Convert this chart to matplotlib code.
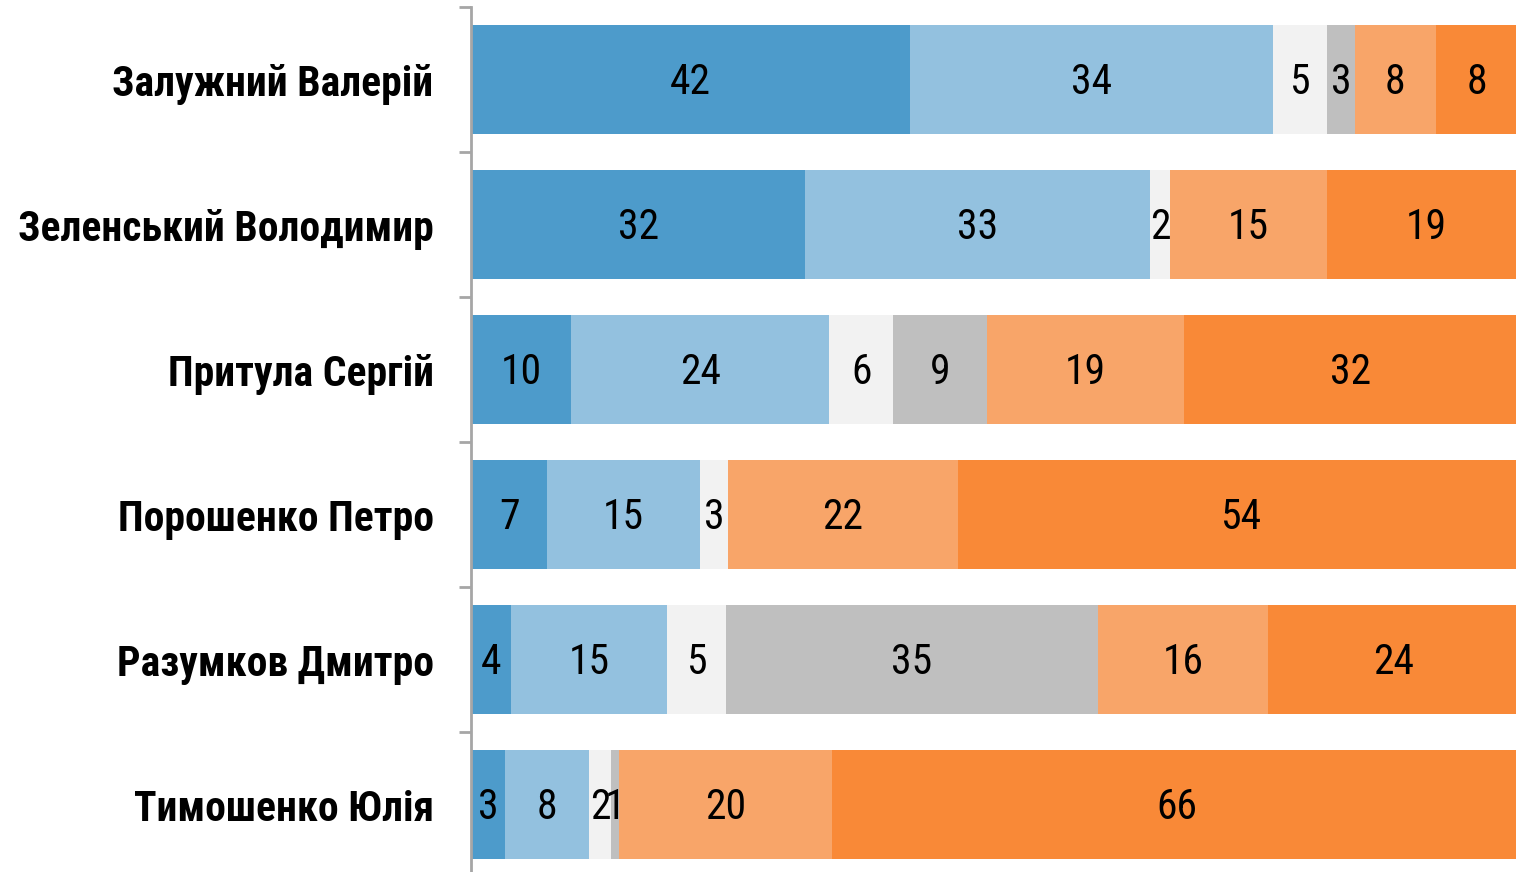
import matplotlib
matplotlib.use("Agg")
import matplotlib.pyplot as plt
import numpy as np

plt.rcParams['font.family'] = ['Roboto Condensed', 'Fira Sans Condensed', 'DejaVu Sans']
plt.rcParams['font.stretch'] = 'condensed'

names = ['Залужний Валерій', 'Зеленський Володимир', 'Притула Сергій',
         'Порошенко Петро', 'Разумков Дмитро', 'Тимошенко Юлія']

# printed values (%)
v1 = [42, 32, 10, 7, 4, 3]
v2 = [34, 33, 24, 15, 15, 8]
v3 = [5, 2, 6, 3, 5, 2]
v4 = [3, 0, 9, 0, 35, 1]
v5 = [8, 15, 19, 22, 16, 20]
v6 = [8, 19, 32, 54, 24, 66]

# segment lengths as drawn in the picture
w1 = [42.0, 32.0, 9.6, 7.3, 3.8, 3.3]
w2 = [34.7, 33.0, 24.7, 14.6, 15.0, 8.0]
w3 = [5.2, 1.9, 6.1, 2.7, 5.6, 2.1]
w4 = [2.7, 0.0, 9.0, 0.0, 35.6, 0.8]
w5 = [7.7, 15.0, 18.8, 22.0, 16.3, 20.3]
w6 = [8.0, 19.0, 32.0, 54.0, 24.0, 66.0]

values = [v1, v2, v3, v4, v5, v6]
widths = [w1, w2, w3, w4, w5, w6]
colors = ['#4d9bcb', '#93c1df', '#f2f2f2', '#bfbfbf', '#f8a569', '#f98937']

fig = plt.figure(figsize=(15.16, 8.72), dpi=100)
ax = fig.add_axes([471 / 1516, -5 / 872, 1 - 471 / 1516, 870 / 872])

y = np.arange(len(names))
left = np.zeros(len(names))
for vals, wid, col in zip(values, widths, colors):
    wid = np.array(wid)
    ax.barh(y, wid, left=left, height=0.75, color=col, linewidth=0)
    for yi, (l, w, v) in enumerate(zip(left, wid, vals)):
        if v > 0:
            ax.text(l + w / 2, yi + 0.02, str(v), ha='center', va='center',
                    fontsize=30, color='black')
    left += wid

ax.set_xlim(0, 100)
ax.set_ylim(len(names) - 0.5, -0.5)
ax.set_yticks(y)
ax.set_yticklabels(names, fontsize=30, fontweight='bold')
ax.set_yticks(np.arange(-0.5, len(names)), minor=True)
ax.tick_params(axis='y', which='major', length=0, pad=27)
ax.tick_params(axis='y', which='minor', length=9, width=2, color='#a6a6a6', direction='out')
ax.set_xticks([])
for side in ['top', 'right', 'bottom']:
    ax.spines[side].set_visible(False)
ax.spines['left'].set_color('#a6a6a6')
ax.spines['left'].set_linewidth(2)

fig.savefig('out.png', dpi=100)
